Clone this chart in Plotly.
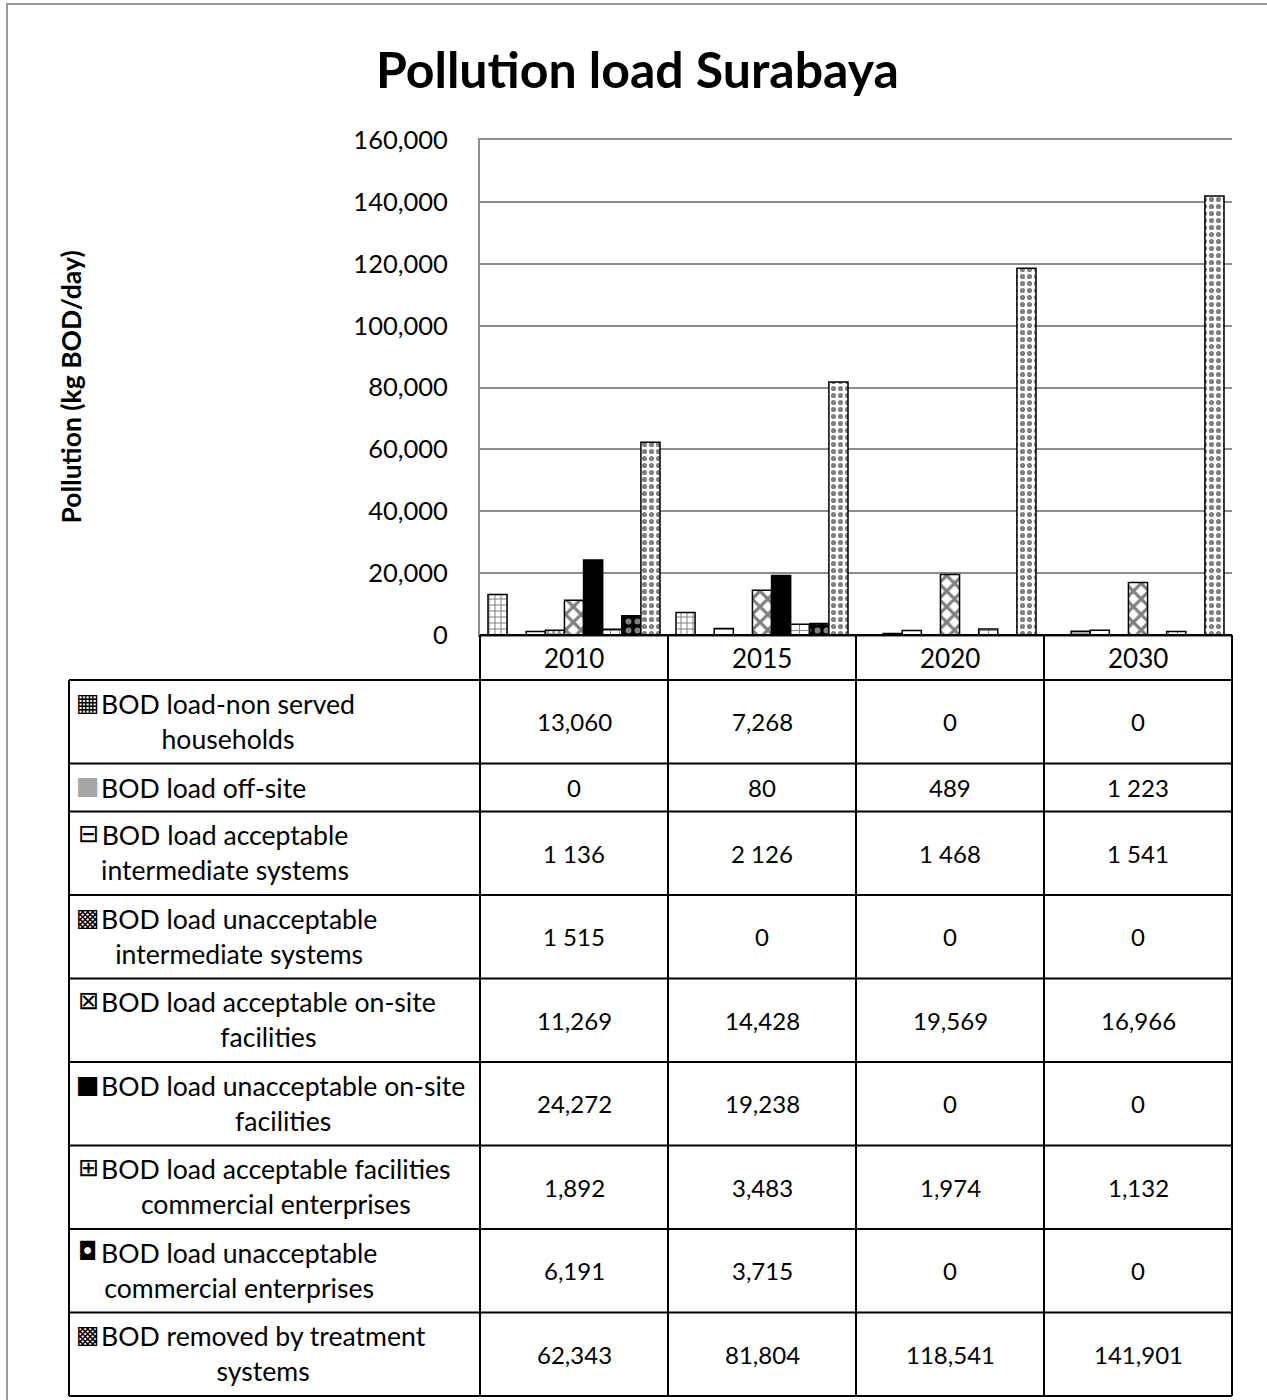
import plotly.graph_objects as go

W, H = 1267, 1400

# ---- data -------------------------------------------------------------
years = ["2010", "2015", "2020", "2030"]

series_names = [
    "BOD load-non served households",
    "BOD load off-site",
    "BOD load acceptable intermediate systems",
    "BOD load unacceptable intermediate systems",
    "BOD load acceptable on-site facilities",
    "BOD load unacceptable on-site facilities",
    "BOD load acceptable facilities commercial enterprises",
    "BOD load unacceptable commercial enterprises",
    "BOD removed by treatment systems",
]

# how each series name is wrapped in the data table
table_label_lines = [
    ["BOD load-non served", "households"],
    ["BOD load off-site"],
    ["BOD load acceptable", "intermediate systems"],
    ["BOD load unacceptable", "intermediate systems"],
    ["BOD load acceptable on-site", "facilities"],
    ["BOD load unacceptable on-site", "facilities"],
    ["BOD load acceptable facilities", "commercial enterprises"],
    ["BOD load unacceptable", "commercial enterprises"],
    ["BOD removed by treatment", "systems"],
]

non_served = [13060, 7268, 0, 0]
off_site = [0, 80, 489, 1223]
acc_intermediate = [1136, 2126, 1468, 1541]
unacc_intermediate = [1515, 0, 0, 0]
acc_onsite = [11269, 14428, 19569, 16966]
unacc_onsite = [24272, 19238, 0, 0]
acc_commercial = [1892, 3483, 1974, 1132]
unacc_commercial = [6191, 3715, 0, 0]
removed_treatment = [62343, 81804, 118541, 141901]

series_values = [non_served, off_site, acc_intermediate, unacc_intermediate,
                 acc_onsite, unacc_onsite, acc_commercial, unacc_commercial,
                 removed_treatment]

# thousands separator used for each row of the data table
thousands_sep = [",", " ", " ", " ", ",", ",", ",", ",", ","]

y_ticks = [0, 20000, 40000, 60000, 80000, 100000, 120000, 140000, 160000]

# ---- styling ------------------------------------------------------------
FONT = "Lato"
BLACK = "#000000"
GRID = "#8e8e8e"

bar_styles = [
    dict(color="white", pattern=dict(shape="+", fgcolor=BLACK, bgcolor="white", size=6, solidity=0.3)),
    dict(color="#a6a6a6"),
    dict(color="white", pattern=dict(shape="-", fgcolor=BLACK, bgcolor="white", size=6, solidity=0.25)),
    dict(color="white", pattern=dict(shape="x", fgcolor=BLACK, bgcolor="white", size=4, solidity=0.5)),
    dict(color="white", pattern=dict(shape="x", fgcolor=BLACK, bgcolor="white", size=11, solidity=0.5)),
    dict(color=BLACK),
    dict(color="white", pattern=dict(shape="+", fgcolor=BLACK, bgcolor="white", size=9, solidity=0.2)),
    dict(color=BLACK, pattern=dict(shape=".", fgcolor="white", bgcolor=BLACK, size=9, solidity=0.35)),
    dict(color="white", pattern=dict(shape=".", fgcolor=BLACK, bgcolor="white", size=7, solidity=0.42)),
]

key_glyphs = ["▦", "■", "⊟", "▩", "⊠", "■", "⊞", "◘", "▩"]
key_colors = [BLACK, "#a6a6a6", BLACK, BLACK, BLACK, BLACK, BLACK, BLACK, BLACK]

# ---- geometry (pixels) -----------------------------------------------------
PLOT_L, PLOT_R, PLOT_T, PLOT_B = 480, 1232, 140, 635
TABLE_L = 69
HEADER_H = 45
LINE_H = 35.5
ROW_PAD = 12.5
LABEL_SIZE = 26.6
VALUE_SIZE = 24


def px(x):
    return x / W


def py(y):
    return 1 - y / H


fig = go.Figure()

for name, vals, style in zip(series_names, series_values, bar_styles):
    fig.add_trace(go.Bar(
        x=years, y=vals, name=name,
        marker=dict(line=dict(color=BLACK, width=1.5), **style),
    ))

shapes = []
annotations = []

# outer chart frame
shapes.append(dict(type="rect", xref="paper", yref="paper",
                   x0=px(7), x1=px(W + 20), y0=py(4), y1=py(H + 20),
                   line=dict(color="#9a9a9a", width=2), fillcolor="rgba(0,0,0,0)",
                   layer="below"))

# ---- data table below the plot ------------------------------------------------
col_w = (PLOT_R - PLOT_L) / len(years)
col_edges = [PLOT_L + i * col_w for i in range(len(years) + 1)]
tline = dict(color=BLACK, width=2)


def hline(y, x0, x1):
    shapes.append(dict(type="line", xref="paper", yref="paper",
                       x0=px(x0), x1=px(x1), y0=py(y), y1=py(y), line=tline))


def vline(x, y0, y1):
    shapes.append(dict(type="line", xref="paper", yref="paper",
                       x0=px(x), x1=px(x), y0=py(y0), y1=py(y1), line=tline))


# header row with the years
hline(PLOT_B, PLOT_L, PLOT_R)
for i, yr in enumerate(years):
    annotations.append(dict(xref="paper", yref="paper",
                            x=px(col_edges[i] + col_w / 2), y=py(PLOT_B + HEADER_H / 2),
                            text=yr, showarrow=False, xanchor="center", yanchor="middle",
                            font=dict(family=FONT, size=26, color=BLACK)))

row_top = PLOT_B + HEADER_H
hline(row_top, TABLE_L, PLOT_R)
for r, lines in enumerate(table_label_lines):
    n = len(lines)
    h = ROW_PAD + LINE_H * n
    cy = row_top + h / 2
    first_line_y = cy - (n - 1) * LINE_H / 2
    # legend key
    annotations.append(dict(xref="paper", yref="paper", x=px(88), y=py(first_line_y - 2),
                            text=key_glyphs[r], showarrow=False,
                            xanchor="center", yanchor="middle",
                            font=dict(family="DejaVu Sans", size=25, color=key_colors[r])))
    # series label, lines centred inside their block
    label = "<br>".join(f"<span style='font-size:{LABEL_SIZE}px'>{ln}</span>" for ln in lines)
    annotations.append(dict(xref="paper", yref="paper", x=px(99), y=py(cy),
                            text=label, showarrow=False, align="center",
                            xanchor="left", yanchor="middle",
                            font=dict(family=FONT, size=LINE_H / 1.3, color=BLACK)))
    # values
    for c, v in enumerate(series_values[r]):
        txt = f"{v:,}".replace(",", thousands_sep[r])
        annotations.append(dict(xref="paper", yref="paper",
                                x=px(col_edges[c] + col_w / 2), y=py(cy),
                                text=txt, showarrow=False,
                                xanchor="center", yanchor="middle",
                                font=dict(family=FONT, size=VALUE_SIZE, color=BLACK)))
    row_top += h
    hline(row_top, TABLE_L, PLOT_R)

table_bottom = row_top
vline(TABLE_L, PLOT_B + HEADER_H, table_bottom)
for x in col_edges:
    vline(x, PLOT_B, table_bottom)

# chart title
annotations.append(dict(xref="paper", yref="paper", x=px(637), y=py(69),
                        text="<b>Pollution load Surabaya</b>", showarrow=False,
                        xanchor="center", yanchor="middle",
                        font=dict(family=FONT, size=50, color=BLACK)))

# y-axis title
annotations.append(dict(xref="paper", yref="paper", x=px(70), y=py((PLOT_T + PLOT_B) / 2),
                        text="<b>Pollution (kg BOD/day)</b>", textangle=-90, showarrow=False,
                        xanchor="center", yanchor="middle",
                        font=dict(family=FONT, size=26.5, color=BLACK)))

fig.update_layout(
    width=W, height=H,
    margin=dict(l=0, r=0, t=0, b=0, autoexpand=False),
    paper_bgcolor="white", plot_bgcolor="white",
    showlegend=False,
    barmode="group", bargap=0.085, bargroupgap=0,
    xaxis=dict(domain=[px(PLOT_L), px(PLOT_R)], showticklabels=False, showgrid=False,
               showline=True, linecolor=GRID, linewidth=2, mirror=True,
               zeroline=False, ticks="", automargin=False),
    yaxis=dict(domain=[py(PLOT_B), py(PLOT_T)], range=[0, 160000], tickvals=y_ticks,
               tickformat=",", showgrid=True, gridcolor=GRID, gridwidth=2,
               showline=True, linecolor=GRID, linewidth=2, zeroline=False,
               ticks="", ticklabelstandoff=25, automargin=False,
               tickfont=dict(family=FONT, size=25.5, color=BLACK)),
    shapes=shapes,
    annotations=annotations,
)

fig.write_html("out.html")
